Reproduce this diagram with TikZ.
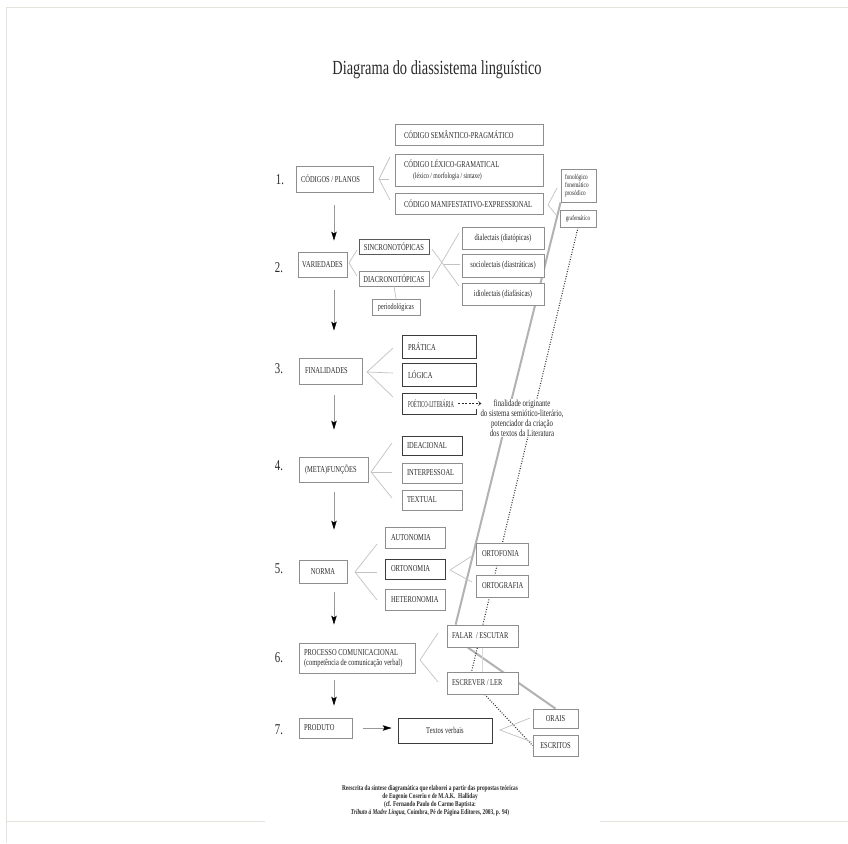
\documentclass[tikz,border=0pt]{standalone}
\usepackage{fontspec}
\usepackage{graphicx}
\setmainfont{Liberation Serif}[FakeStretch=0.72]
\usetikzlibrary{arrows.meta,backgrounds,calc}
\definecolor{bxc}{HTML}{8E8E8E}
\definecolor{dkc}{HTML}{3C3C3C}
\definecolor{lnc}{HTML}{C2C2C2}
\definecolor{thk}{HTML}{B2B2B2}
\definecolor{pgc}{HTML}{E4E4DC}
\definecolor{txc}{HTML}{2A2A2A}
\newcommand\fs[2]{\fontsize{#1}{#2}\selectfont}
\begin{document}
\begin{tikzpicture}[x=1pt,y=-1pt,
  bx/.style={draw=bxc, line width=0.8pt, fill=white, inner ysep=0pt, inner xsep=5pt,
    align=flush left, font=\fs{9}{10}, text=txc},
  dk/.style={bx, draw=dkc},
  cen/.style={align=flush center},
  num/.style={font=\fs{15}{16}, inner sep=0pt, text=txc},
  br/.style={draw=lnc, line width=0.7pt},
  down/.style={draw=black!40, line width=0.6pt,
    -{Stealth[length=9pt,width=5.5pt,inset=2pt,color=black]}},
  thick line/.style={draw=thk, line width=2pt},
  dots/.style={draw=black!80, line width=1.1pt, dash pattern=on 0.9pt off 1.6pt},
  pageline/.style={draw=pgc, line width=1pt}
]
\useasboundingbox (0,0) rectangle (848,843);
% page frame
\draw[pageline] (6,843) -- (6,8) -- (848,8);
\draw[pageline] (6,821) -- (265,821);
\draw[pageline] (600,821) -- (848,821);

% title
\node[font=\fs{20}{22}, text=txc] (title) at (437,70) {Diagrama do diassistema linguístico};

% numbers
\node[num] (n1) at (280,180) {1.};
\node[num] (n2) at (279,268) {2.};
\node[num] (n3) at (279,369) {3.};
\node[num] (n4) at (279,466) {4.};
\node[num] (n5) at (279,569) {5.};
\node[num] (n6) at (279,658) {6.};
\node[num] (n7) at (279,730) {7.};

% row 1
\node[bx, text width=67pt, minimum height=26pt] (cod) at (334.5,179) {CÓDIGOS / PLANOS};
\node[bx, inner xsep=9pt, text width=130pt, minimum height=21pt] (sem) at (469,134.5) {CÓDIGO SEMÂNTICO-PRAGMÁTICO};
\node[bx, inner xsep=9pt, text width=130pt, minimum height=32pt] (lex) at (469,170)
  {CÓDIGO LÉXICO-GRAMATICAL\\[1pt]\hspace*{9pt}{\fs{8}{8}(léxico / morfologia / sintaxe)}};
\node[bx, inner xsep=9pt, text width=130pt, minimum height=21pt] (man) at (469,203.5) {CÓDIGO MANIFESTATIVO-EXPRESSIONAL};
\node[bx, inner xsep=4pt, text width=27pt, minimum height=33pt, font=\fs{7.3}{8}] (fon) at (578.5,185.5) {fonológico\\fonemático\\prosódico};
\node[bx, cen, inner xsep=2pt, text width=32pt, minimum height=17pt, font=\fs{7}{7}] (gra) at (578,218.5) {grafemático};

% row 2
\node[bx, cen, inner xsep=3pt, text width=43pt, minimum height=25pt] (var) at (322.5,264.5) {VARIEDADES};
\node[bx, cen, draw=black!65, inner xsep=3pt, text width=64pt, minimum height=15pt] (sin) at (394,246.5) {SINCRONOTÓPICAS};
\node[bx, cen, inner xsep=3pt, text width=64pt, minimum height=15pt] (dia) at (394,278.5) {DIACRONOTÓPICAS};
\node[bx, cen, inner xsep=3pt, text width=42pt, minimum height=16pt, font=\fs{8.5}{9}] (per) at (396,307) {periodológicas};
\node[bx, cen, inner xsep=3pt, text width=76pt, minimum height=22pt] (dial) at (503,238) {dialectais (diatópicas)};
\node[bx, cen, inner xsep=3pt, text width=76pt, minimum height=23pt] (soc) at (503,265.5) {sociolectais (diastráticas)};
\node[bx, cen, inner xsep=3pt, text width=76pt, minimum height=22pt] (idio) at (503,294) {idiolectais (diafásicas)};

% row 3
\node[bx, inner xsep=6pt, text width=51pt, minimum height=26pt] (fin) at (330.5,371) {FINALIDADES};
\node[dk, inner xsep=6pt, text width=62pt, minimum height=23pt] (pra) at (439,346.5) {PRÁTICA};
\node[dk, inner xsep=6pt, text width=62pt, minimum height=23pt] (log) at (439,374.5) {LÓGICA};
\node[dk, inner xsep=6pt, text width=62pt, minimum height=21pt] (poe) at (439,403.5) {\scalebox{0.72}[1]{POÉTICO-LITERÁRIA}};

% row 4
\node[bx, inner xsep=6pt, text width=57pt, minimum height=25pt] (fun) at (333.5,469.5) {(META)FUNÇÕES};
\node[dk, inner xsep=5pt, text width=50pt, minimum height=19pt] (ide) at (432,445.5) {IDEACIONAL};
\node[bx, inner xsep=5pt, text width=50pt, minimum height=20pt] (int) at (432,473) {INTERPESSOAL};
\node[bx, inner xsep=5pt, text width=50pt, minimum height=20pt] (tex) at (432,500) {TEXTUAL};

% row 5
\node[bx, cen, inner xsep=3pt, text width=42pt, minimum height=23pt] (nor) at (323,571.5) {NORMA};
\node[bx, inner xsep=6pt, text width=48pt, minimum height=21pt] (aut) at (415,537.5) {AUTONOMIA};
\node[dk, inner xsep=6pt, text width=48pt, minimum height=20pt] (orn) at (415,569) {ORTONOMIA};
\node[bx, inner xsep=6pt, text width=48pt, minimum height=21pt] (het) at (415,599.5) {HETERONOMIA};
\node[bx, inner xsep=6pt, text width=40pt, minimum height=22pt] (ortf) at (502,554) {ORTOFONIA};
\node[bx, inner xsep=6pt, text width=40pt, minimum height=22pt] (ortg) at (502,586) {ORTOGRAFIA};

% row 6
\node[bx, inner xsep=5pt, text width=106pt, minimum height=30pt] (pro) at (357,658)
  {PROCESSO COMUNICACIONAL\\(competência de comunicação verbal)};
\node[bx, inner xsep=5pt, text width=61pt, minimum height=22pt] (fal) at (482.5,636) {FALAR~~/ ESCUTAR};
\node[bx, inner xsep=5pt, text width=61pt, minimum height=22pt] (esc) at (482.5,683) {ESCREVER / LER};

% row 7
\node[bx, inner xsep=5pt, text width=43pt, minimum height=20pt] (prd) at (325.5,728) {PRODUTO};
\node[dk, cen, inner xsep=3pt, text width=88pt, minimum height=25pt] (txt) at (445,730.5) {Textos verbais};
\node[bx, cen, inner xsep=2pt, text width=41pt, minimum height=19pt] (ora) at (555.5,718.5) {ORAIS};
\node[bx, cen, inner xsep=2pt, text width=41pt, minimum height=21pt] (escr) at (555.5,745.5) {ESCRITOS};

% note
\node[fill=white, inner sep=1pt, align=center, font=\fs{9.5}{9.8}, text=txc] (note) at (522,418)
  {finalidade originante\\do sistema semiótico-literário,\\potenciador da criação\\dos textos da Literatura};

% footer
\node[align=center, font=\bfseries\fs{7.4}{8}, text=txc] (foot) at (430,801)
  {Reescrita da síntese diagramática que elaborei a partir das propostas teóricas\\
   de Eugenio Coseriu e de M.A.K.~~Halliday\\
   (cf. Fernando Paulo do Carmo Baptista:\\
   \textit{Tributo à Madre Língua}, Coimbra, Pé de Página Editores, 2003, p. 94)};

% bracket coordinates
\coordinate (ca) at (379,179); \coordinate (c1) at (390,157); \coordinate (c2) at (389,179); \coordinate (c3) at (390,200);
\coordinate (ma) at (548,205); \coordinate (m1) at (557,188); \coordinate (m2) at (557,216);
\coordinate (va) at (349,263); \coordinate (v1) at (357,250); \coordinate (v2) at (357,276);
\coordinate (x1) at (432,249); \coordinate (x2) at (459,286); \coordinate (x3) at (432,279); \coordinate (x4) at (459,233);
\coordinate (x5) at (444,264); \coordinate (x6) at (460,264);
\coordinate (fa) at (367,372); \coordinate (f1) at (393,348); \coordinate (f2) at (393,373); \coordinate (f3) at (393,397);
\coordinate (ua) at (371,472); \coordinate (u1) at (392,443); \coordinate (u2) at (392,472); \coordinate (u3) at (392,498);
\coordinate (na) at (355,572); \coordinate (nn1) at (377,544); \coordinate (nn2) at (377,572); \coordinate (nn3) at (377,600);
\coordinate (oa) at (450,570); \coordinate (o1) at (472,556); \coordinate (o2) at (472,582);
\coordinate (pa) at (420,660); \coordinate (p1) at (438,633); \coordinate (p2) at (438,682);
\coordinate (ta) at (500,730); \coordinate (t1) at (530,718); \coordinate (t2) at (532,742);
\coordinate (ax) at (334,0);

\begin{scope}[on background layer]
  \fill[white] (0,0) rectangle (848,843);
  % long thick and dotted lines
  \draw[thick line] (fon.south west) -- ($(fal.north west)+(9,0)$);
  \draw[thick line] ($(fal.south west)+(21,0)$) -- (ora.north);
  \draw[dots] (gra.south) -- ($(esc.north west)+(25,0)$);
  \draw[dots] ($(esc.south west)+(38,0)$) -- (escr.west);
  \draw[draw=black!15, line width=0.5pt] (fal.south) -- (esc.north);
\end{scope}

% brackets
\draw[br] (c1) -- (ca) -- (c3); \draw[br] (ca) -- (c2);
\draw[br] (m1) -- (ma) -- (m2);
\draw[br] (v1) -- (va) -- (v2);
\draw[br] (x1) -- (x2); \draw[br] (x3) -- (x4); \draw[br] (x5) -- (x6);
\draw[br] (dia.south) -- (per.north);
\draw[br] (f1) -- (fa) -- (f3); \draw[br] (fa) -- (f2);
\draw[br] (u1) -- (ua) -- (u3); \draw[br] (ua) -- (u2);
\draw[br] (nn1) -- (na) -- (nn3); \draw[br] (na) -- (nn2);
\draw[br] (o1) -- (oa) -- (o2);
\draw[br] (p1) -- (pa) -- (p2);
\draw[br] (t1) -- (ta) -- (t2);

% down arrows
\draw[down, shorten <=13pt, shorten >=11pt] (cod.south -| ax) -- (var.north -| ax);
\draw[down, shorten <=13pt, shorten >=27pt] (var.south -| ax) -- (fin.north -| ax);
\draw[down, shorten <=11pt, shorten >=27pt] (fin.south -| ax) -- (fun.north -| ax);
\draw[down, shorten <=10pt, shorten >=30pt] (fun.south -| ax) -- (nor.north -| ax);
\draw[down, shorten <=9pt, shorten >=18pt] (nor.south -| ax) -- (pro.north -| ax);
\draw[down, shorten <=7pt, shorten >=12pt] (pro.south -| ax) -- (prd.north -| ax);
\draw[down, shorten <=11pt, shorten >=6pt] (prd.east) -- (prd.east -| txt.west);

% dashed arrow from POETICO-LITERARIA
\draw[white, line width=1.6pt] ($(poe.east)+(0,-5)$) -- ($(poe.east)+(0,5)$);
\draw[draw=txc, line width=0.6pt, dash pattern=on 2pt off 1.5pt, -{Straight Barb[length=2.5pt,width=4pt]}]
  ($(poe.east)+(-18,0)$) -- ($(poe.east)+(5,0)$);
\end{tikzpicture}
\end{document}
